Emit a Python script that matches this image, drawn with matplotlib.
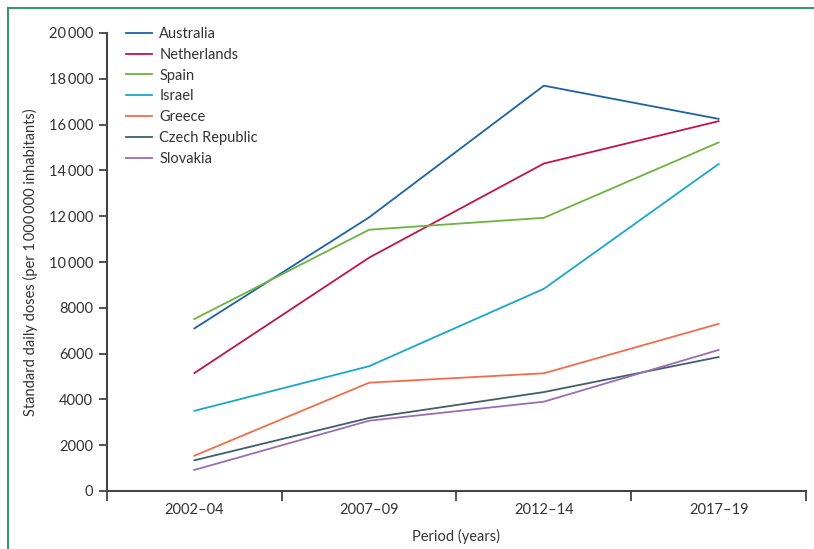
import matplotlib
matplotlib.use("Agg")
import matplotlib.pyplot as plt
from matplotlib.lines import Line2D
from matplotlib.ticker import FuncFormatter

plt.rcParams['font.family'] = ['Lato', 'DejaVu Sans']

# Periods and consumption per country (standard daily doses per 1 000 000 inhabitants)
periods = ["2002\u201304", "2007\u201309", "2012\u201314", "2017\u201319"]
australia = [7100, 11950, 17700, 16250]
netherlands = [5150, 10190, 14300, 16150]
spain = [7510, 11410, 11930, 15220]
israel = [3500, 5450, 8830, 14280]
greece = [1540, 4730, 5140, 7300]
czech = [1340, 3190, 4320, 5850]
slovakia = [920, 3070, 3900, 6160]

countries = ["Australia", "Netherlands", "Spain", "Israel", "Greece",
             "Czech Republic", "Slovakia"]
series = [australia, netherlands, spain, israel, greece, czech, slovakia]
colours = ["#1d62a8", "#c0144b", "#6cb33f", "#17a7cf", "#f26d4b",
           "#405f69", "#9a6db7"]

fig = plt.figure(figsize=(8.14, 5.49), dpi=100)
ax = fig.add_axes([107/814, 58/549, (806-107)/814, (491-33)/549])

x = range(len(periods))
for name, vals, col in zip(countries, series, colours):
    ax.plot(x, vals, color=col, lw=1.3, label=name)

ax.set_xlim(-0.5, len(periods) - 0.5)
ax.set_ylim(0, 20000)
ax.set_yticks(range(0, 20001, 2000))


def thousands(v, pos):
    v = int(v)
    if v >= 10000:
        return f"{v // 1000}\u2009{v % 1000:03d}"
    return str(v)


ax.yaxis.set_major_formatter(FuncFormatter(thousands))

# category labels sit between boundary ticks
ax.set_xticks([i - 0.5 for i in range(len(periods) + 1)])
ax.set_xticklabels([])
ax.set_xticks(list(x), minor=True)
ax.set_xticklabels(periods, minor=True)
ax.tick_params(axis='x', which='minor', length=0, pad=9)
ax.tick_params(axis='x', which='major', length=7, width=1.3, color='#444444')
ax.tick_params(axis='y', length=6, width=1.3, color='#444444', pad=4)
ax.tick_params(axis='both', which='both', labelsize=10.5, labelcolor='#333333')

for side in ("top", "right"):
    ax.spines[side].set_visible(False)
for side in ("left", "bottom"):
    ax.spines[side].set_color('#444444')
    ax.spines[side].set_linewidth(1.5)

ax.set_ylabel("Standard daily doses (per 1\u2009000\u2009000 inhabitants)",
              fontsize=10.5, color='#333333', labelpad=8)
ax.set_xlabel("Period (years)", fontsize=10.5, color='#333333', labelpad=8)

ax.legend(loc='upper left', bbox_to_anchor=(0.009, 1.042), frameon=False,
          fontsize=10.5, handlelength=1.75, handletextpad=0.5,
          labelspacing=0.47, labelcolor='#333333')

# green frame along the top and left edges
fig.add_artist(Line2D([8/814, 1], [1 - 8/549, 1 - 8/549],
                      color='#1f8f5a', lw=1.3, transform=fig.transFigure))
fig.add_artist(Line2D([8/814, 8/814], [0, 1 - 8/549],
                      color='#1f8f5a', lw=1.3, transform=fig.transFigure))

fig.savefig("out.png", dpi=100)
